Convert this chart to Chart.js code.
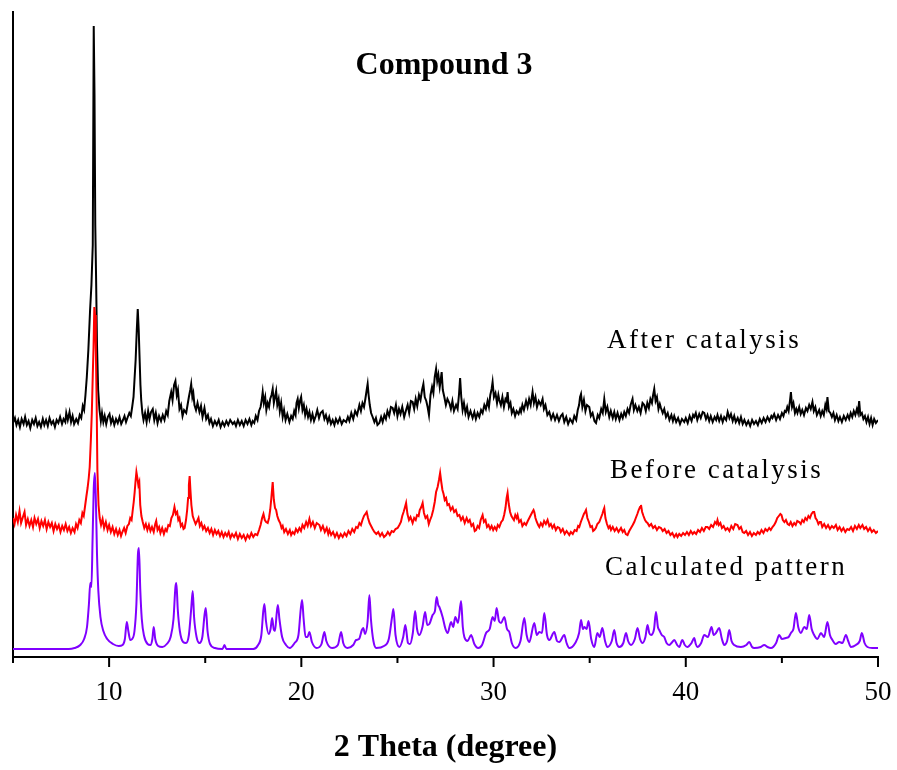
<!DOCTYPE html>
<html>
<head>
<meta charset="utf-8">
<script src="https://cdn.jsdelivr.net/npm/chart.js@4.4.1/dist/chart.umd.min.js"></script>
<style>
  body { margin: 0; background: #fff; }
  #wrap { width: 897px; height: 770px; }
</style>
</head>
<body>
<div id="wrap"><canvas id="xrd" width="897" height="770"></canvas></div>
<script>
// [2 theta, intensity above the trace's own baseline]
const afterCatalysis = [
  [5.00,2],[5.10,7],[5.18,0],[5.27,5],[5.36,-2],[5.45,6],[5.55,1],[5.63,8],[5.72,0],[5.81,4],[5.90,-3],[6.00,5],[6.09,1],[6.18,7],[6.27,-1],[6.36,3],[6.45,-2],[6.55,6],[6.63,0],[6.72,5],[6.81,-1],[6.90,7],[7.00,1],[7.09,4],[7.18,-2],[7.27,5],[7.36,2],[7.45,8],[7.55,1],[7.63,6],[7.72,3],[7.77,12],[7.85,5],[7.94,13],[8.02,3],[8.10,9],[8.18,1],[8.29,6],[8.38,2],[8.47,10],[8.55,7],[8.63,19],[8.70,15],[8.77,30],[8.84,48],[8.92,75],[9.01,115],[9.08,140],[9.15,180],[9.20,399],[9.24,330],[9.28,200],[9.32,150],[9.37,80],[9.43,35],[9.50,15],[9.57,4],[9.63,12],[9.70,3],[9.77,9],[9.85,1],[9.93,8],[10.02,11],[10.10,2],[10.18,7],[10.27,0],[10.36,6],[10.45,2],[10.54,8],[10.63,1],[10.72,5],[10.80,9],[10.88,3],[10.97,8],[11.05,12],[11.13,9],[11.20,18],[11.27,28],[11.32,45],[11.38,65],[11.44,95],[11.49,116],[11.54,95],[11.58,70],[11.63,40],[11.67,25],[11.73,12],[11.79,5],[11.87,12],[11.95,3],[12.03,14],[12.10,6],[12.18,13],[12.27,16],[12.35,5],[12.43,12],[12.52,2],[12.60,9],[12.70,4],[12.79,10],[12.88,5],[12.97,14],[13.05,10],[13.13,24],[13.23,33],[13.30,25],[13.38,40],[13.45,44],[13.52,30],[13.58,35],[13.66,16],[13.74,20],[13.82,9],[13.90,15],[14.01,12],[14.08,20],[14.15,28],[14.22,35],[14.27,41],[14.33,28],[14.38,32],[14.44,20],[14.52,15],[14.60,22],[14.70,13],[14.78,19],[14.86,8],[14.96,17],[15.05,6],[15.14,10],[15.22,2],[15.30,6],[15.40,-1],[15.50,4],[15.60,0],[15.70,5],[15.80,-2],[15.90,3],[16.00,-1],[16.10,4],[16.20,0],[16.30,5],[16.43,1],[16.52,3],[16.60,-1],[16.70,5],[16.80,0],[16.90,4],[17.00,-1],[17.10,5],[17.20,1],[17.30,6],[17.40,0],[17.47,4],[17.55,2],[17.63,9],[17.72,5],[17.80,14],[17.88,18],[17.94,25],[17.99,33],[18.05,22],[18.12,28],[18.18,15],[18.25,22],[18.32,18],[18.38,26],[18.45,30],[18.51,36],[18.57,22],[18.63,28],[18.69,34],[18.75,20],[18.82,26],[18.88,14],[18.95,22],[19.03,8],[19.10,15],[19.18,5],[19.27,11],[19.38,3],[19.47,9],[19.55,6],[19.63,14],[19.70,10],[19.75,22],[19.81,26],[19.87,17],[19.93,24],[19.99,28],[20.06,15],[20.13,20],[20.20,10],[20.27,16],[20.35,8],[20.42,13],[20.50,5],[20.58,11],[20.66,4],[20.75,9],[20.83,15],[20.92,7],[21.00,12],[21.11,14],[21.20,6],[21.28,10],[21.37,3],[21.45,8],[21.54,1],[21.63,5],[21.72,0],[21.80,6],[21.90,2],[22.00,7],[22.10,1],[22.20,5],[22.33,3],[22.42,8],[22.50,4],[22.60,12],[22.70,6],[22.80,14],[22.90,10],[23.02,20],[23.10,14],[23.18,22],[23.26,18],[23.33,26],[23.40,35],[23.45,41],[23.50,30],[23.56,20],[23.63,12],[23.71,8],[23.80,3],[23.88,7],[23.96,0],[24.06,2],[24.15,8],[24.23,3],[24.32,10],[24.40,6],[24.48,14],[24.57,9],[24.66,18],[24.75,17],[24.83,12],[24.92,20],[25.00,9],[25.08,16],[25.16,11],[25.25,18],[25.35,8],[25.45,15],[25.53,20],[25.61,12],[25.70,24],[25.79,23],[25.87,16],[25.95,26],[26.03,19],[26.12,30],[26.20,25],[26.28,35],[26.35,41],[26.42,28],[26.50,24],[26.57,18],[26.64,10],[26.72,30],[26.80,38],[26.87,32],[26.94,48],[27.01,56],[27.07,44],[27.13,50],[27.20,38],[27.25,45],[27.30,53],[27.36,35],[27.44,28],[27.52,20],[27.60,26],[27.70,22],[27.78,16],[27.86,24],[27.94,14],[28.05,20],[28.13,16],[28.20,30],[28.26,47],[28.32,28],[28.39,15],[28.46,22],[28.54,12],[28.62,18],[28.70,8],[28.80,14],[28.91,7],[29.00,13],[29.08,6],[29.17,12],[29.26,8],[29.35,15],[29.43,12],[29.52,20],[29.60,16],[29.69,24],[29.76,18],[29.83,30],[29.90,36],[29.95,43],[30.02,28],[30.10,32],[30.18,22],[30.25,30],[30.30,25],[30.38,20],[30.46,28],[30.54,18],[30.62,26],[30.68,24],[30.73,33],[30.80,18],[30.88,22],[30.95,12],[31.03,16],[31.12,9],[31.20,14],[31.30,11],[31.38,16],[31.43,13],[31.50,20],[31.58,15],[31.69,24],[31.77,18],[31.85,26],[31.93,20],[32.03,33],[32.10,22],[32.18,28],[32.26,18],[32.35,24],[32.45,20],[32.55,26],[32.62,16],[32.70,20],[32.80,10],[32.90,13],[33.00,6],[33.10,11],[33.20,5],[33.30,10],[33.40,4],[33.50,9],[33.59,11],[33.68,3],[33.78,8],[33.88,1],[33.98,6],[34.11,2],[34.20,9],[34.30,5],[34.38,15],[34.45,20],[34.50,28],[34.55,31],[34.62,18],[34.70,25],[34.78,14],[34.86,20],[34.98,18],[35.06,9],[35.15,12],[35.25,4],[35.33,2],[35.42,10],[35.50,7],[35.60,16],[35.68,12],[35.76,26],[35.84,13],[35.92,18],[36.02,8],[36.10,14],[36.20,7],[36.28,13],[36.36,6],[36.45,12],[36.55,5],[36.64,11],[36.72,7],[36.80,13],[36.88,9],[36.97,16],[37.05,12],[37.13,20],[37.23,26],[37.30,15],[37.38,20],[37.48,14],[37.56,18],[37.65,12],[37.75,22],[37.84,20],[37.92,14],[38.00,22],[38.08,17],[38.16,26],[38.24,22],[38.30,30],[38.36,36],[38.43,24],[38.50,28],[38.58,16],[38.65,21],[38.71,17],[38.80,12],[38.88,16],[38.97,8],[39.06,12],[39.15,5],[39.25,10],[39.33,4],[39.40,9],[39.50,3],[39.60,7],[39.70,1],[39.80,6],[39.92,3],[40.00,7],[40.10,2],[40.20,9],[40.30,4],[40.38,10],[40.44,8],[40.52,12],[40.60,5],[40.70,11],[40.78,7],[40.88,13],[40.96,12],[41.05,6],[41.13,10],[41.22,4],[41.30,9],[41.40,3],[41.50,8],[41.58,5],[41.65,10],[41.74,4],[41.83,9],[41.92,3],[42.00,8],[42.10,5],[42.18,13],[42.27,7],[42.35,11],[42.44,4],[42.52,9],[42.60,3],[42.70,7],[42.78,2],[42.87,8],[42.96,1],[43.05,5],[43.15,0],[43.25,4],[43.35,-1],[43.45,5],[43.55,1],[43.65,4],[43.75,0],[43.85,6],[43.95,2],[44.05,7],[44.15,3],[44.25,8],[44.35,4],[44.45,9],[44.51,7],[44.60,11],[44.70,5],[44.80,10],[44.90,6],[45.00,12],[45.08,9],[45.15,14],[45.21,13],[45.28,18],[45.35,14],[45.42,24],[45.47,33],[45.53,18],[45.60,22],[45.68,12],[45.75,16],[45.81,12],[45.90,18],[45.98,11],[46.06,15],[46.15,10],[46.25,17],[46.33,14],[46.42,20],[46.50,16],[46.59,23],[46.66,14],[46.74,18],[46.82,10],[46.94,15],[47.02,9],[47.10,14],[47.18,10],[47.26,20],[47.32,16],[47.37,28],[47.44,14],[47.52,12],[47.60,8],[47.68,12],[47.76,5],[47.85,10],[47.94,4],[48.02,8],[48.12,3],[48.22,9],[48.32,5],[48.42,10],[48.50,6],[48.58,12],[48.66,8],[48.74,14],[48.82,10],[48.90,16],[48.96,12],[49.02,24],[49.08,10],[49.16,12],[49.24,6],[49.32,9],[49.40,3],[49.48,8],[49.56,1],[49.64,7],[49.72,0],[49.80,6],[49.89,2],[50.00,5]
];

const beforeCatalysis = [
  [5.00,22],[5.08,16],[5.16,25],[5.25,18],[5.34,29],[5.42,17],[5.50,22],[5.60,28],[5.68,15],[5.77,21],[5.86,14],[5.95,20],[6.04,13],[6.12,22],[6.21,16],[6.30,21],[6.39,12],[6.48,19],[6.57,14],[6.66,20],[6.75,11],[6.84,18],[6.93,13],[7.02,17],[7.11,9],[7.20,16],[7.29,11],[7.38,15],[7.47,8],[7.56,14],[7.65,10],[7.74,16],[7.83,9],[7.92,13],[8.01,7],[8.10,12],[8.20,8],[8.28,16],[8.36,12],[8.45,20],[8.53,17],[8.61,27],[8.68,24],[8.75,34],[8.82,44],[8.88,52],[8.94,62],[8.99,73],[9.05,100],[9.10,127],[9.15,165],[9.19,193],[9.23,233],[9.27,225],[9.31,190],[9.35,140],[9.39,70],[9.45,35],[9.51,22],[9.58,15],[9.66,21],[9.74,12],[9.83,18],[9.92,10],[10.00,15],[10.09,8],[10.18,13],[10.27,6],[10.36,11],[10.45,5],[10.54,10],[10.62,4],[10.69,8],[10.78,12],[10.86,7],[10.95,14],[11.03,16],[11.10,22],[11.17,20],[11.23,30],[11.28,38],[11.33,48],[11.38,60],[11.42,68],[11.47,62],[11.52,55],[11.57,58],[11.62,35],[11.68,24],[11.75,18],[11.83,12],[11.91,16],[11.99,10],[12.07,15],[12.15,9],[12.23,13],[12.32,8],[12.40,16],[12.45,19],[12.52,10],[12.60,13],[12.67,7],[12.76,12],[12.85,6],[12.93,11],[13.00,9],[13.08,15],[13.16,14],[13.24,22],[13.32,25],[13.40,33],[13.47,26],[13.54,28],[13.60,20],[13.66,22],[13.73,14],[13.80,16],[13.87,11],[13.93,12],[14.00,20],[14.06,30],[14.11,42],[14.15,55],[14.19,64],[14.23,50],[14.28,35],[14.35,24],[14.42,20],[14.50,16],[14.58,19],[14.65,22],[14.72,14],[14.80,17],[14.88,11],[14.96,14],[15.05,9],[15.14,12],[15.23,7],[15.32,11],[15.41,5],[15.50,10],[15.59,6],[15.68,9],[15.77,4],[15.86,8],[15.95,3],[16.04,7],[16.13,4],[16.22,8],[16.31,2],[16.40,6],[16.50,3],[16.60,7],[16.70,1],[16.80,6],[16.90,2],[17.00,5],[17.10,0],[17.20,5],[17.30,2],[17.40,7],[17.50,3],[17.60,6],[17.71,5],[17.80,10],[17.88,15],[17.96,22],[18.03,26],[18.10,20],[18.17,18],[18.25,17],[18.32,22],[18.38,30],[18.44,42],[18.51,58],[18.57,40],[18.63,32],[18.69,30],[18.75,24],[18.82,20],[18.90,17],[18.97,12],[19.03,14],[19.11,8],[19.20,11],[19.30,6],[19.40,10],[19.47,5],[19.55,8],[19.64,6],[19.72,11],[19.81,8],[19.90,12],[19.98,9],[20.06,15],[20.15,12],[20.25,18],[20.33,14],[20.42,21],[20.50,14],[20.60,18],[20.70,12],[20.80,17],[20.94,15],[21.02,10],[21.12,14],[21.22,8],[21.32,12],[21.40,6],[21.46,10],[21.55,5],[21.65,8],[21.75,3],[21.85,7],[21.95,2],[22.05,6],[22.15,3],[22.25,7],[22.35,4],[22.45,9],[22.55,6],[22.65,11],[22.75,8],[22.85,13],[22.93,12],[23.02,17],[23.10,15],[23.18,20],[23.26,24],[23.33,26],[23.40,28],[23.47,22],[23.55,17],[23.63,14],[23.71,11],[23.80,8],[23.90,6],[24.00,8],[24.10,4],[24.20,7],[24.30,3],[24.41,5],[24.50,8],[24.60,5],[24.70,9],[24.80,8],[24.90,11],[25.01,12],[25.10,15],[25.18,18],[25.25,24],[25.32,28],[25.38,32],[25.45,37],[25.52,26],[25.60,20],[25.68,23],[25.79,17],[25.87,22],[25.95,20],[26.02,25],[26.10,24],[26.16,30],[26.24,33],[26.31,37],[26.38,27],[26.46,22],[26.55,24],[26.63,16],[26.70,20],[26.78,24],[26.86,30],[26.94,38],[27.01,48],[27.09,53],[27.16,60],[27.22,67],[27.28,58],[27.34,50],[27.40,46],[27.46,40],[27.53,42],[27.60,35],[27.68,36],[27.77,30],[27.87,33],[27.95,28],[28.04,30],[28.13,24],[28.22,25],[28.31,20],[28.40,23],[28.50,17],[28.60,22],[28.68,18],[28.76,20],[28.85,14],[28.94,16],[29.02,9],[29.09,10],[29.17,14],[29.25,12],[29.33,20],[29.43,25],[29.50,18],[29.58,20],[29.66,13],[29.74,15],[29.82,11],[29.90,14],[29.98,10],[30.06,13],[30.15,10],[30.22,15],[30.30,13],[30.40,18],[30.48,20],[30.55,25],[30.62,32],[30.68,42],[30.73,47],[30.79,36],[30.86,28],[30.93,24],[30.99,22],[31.06,20],[31.13,25],[31.20,22],[31.25,25],[31.33,18],[31.42,20],[31.50,14],[31.60,17],[31.69,15],[31.78,19],[31.86,22],[31.94,25],[32.02,28],[32.08,30],[32.12,28],[32.18,22],[32.25,18],[32.32,15],[32.38,13],[32.46,17],[32.55,14],[32.63,19],[32.72,16],[32.81,20],[32.90,14],[32.98,16],[33.06,12],[33.15,15],[33.24,10],[33.33,13],[33.42,12],[33.50,8],[33.60,11],[33.70,6],[33.80,9],[33.94,5],[34.02,8],[34.12,6],[34.22,10],[34.32,9],[34.40,14],[34.46,13],[34.54,18],[34.62,22],[34.70,26],[34.76,28],[34.81,30],[34.88,22],[34.96,18],[35.04,13],[35.12,14],[35.18,9],[35.24,10],[35.32,12],[35.40,16],[35.50,18],[35.58,22],[35.66,26],[35.72,30],[35.76,32],[35.82,22],[35.90,16],[35.98,12],[36.05,14],[36.11,10],[36.20,13],[36.30,9],[36.40,12],[36.50,8],[36.63,12],[36.72,8],[36.80,10],[36.88,6],[36.97,5],[37.06,9],[37.15,12],[37.24,15],[37.32,18],[37.40,22],[37.48,26],[37.55,30],[37.62,33],[37.67,35],[37.73,28],[37.80,24],[37.88,20],[37.95,18],[38.01,17],[38.10,14],[38.20,16],[38.30,12],[38.40,14],[38.50,10],[38.60,13],[38.71,12],[38.80,9],[38.90,11],[39.00,7],[39.10,9],[39.20,5],[39.30,7],[39.40,3],[39.50,6],[39.57,3],[39.66,6],[39.76,4],[39.86,7],[39.96,5],[40.06,8],[40.16,5],[40.26,9],[40.36,6],[40.44,8],[40.54,6],[40.64,10],[40.74,8],[40.84,12],[40.94,9],[41.04,13],[41.13,13],[41.22,11],[41.32,15],[41.42,13],[41.52,18],[41.60,16],[41.65,20],[41.72,15],[41.80,17],[41.88,12],[41.97,14],[42.07,10],[42.17,12],[42.27,9],[42.37,14],[42.47,11],[42.57,16],[42.69,15],[42.78,11],[42.87,13],[42.96,8],[43.04,7],[43.14,9],[43.24,5],[43.34,8],[43.44,4],[43.54,7],[43.65,5],[43.74,8],[43.84,6],[43.94,10],[44.04,7],[44.14,11],[44.24,9],[44.34,12],[44.42,10],[44.51,13],[44.60,15],[44.68,18],[44.76,22],[44.84,24],[44.92,26],[44.98,25],[45.05,20],[45.13,18],[45.21,20],[45.30,16],[45.38,15],[45.46,18],[45.55,14],[45.64,17],[45.72,15],[45.80,19],[45.90,18],[45.98,16],[46.06,20],[46.14,18],[46.22,22],[46.30,20],[46.38,24],[46.46,22],[46.54,26],[46.62,28],[46.68,28],[46.75,22],[46.82,20],[46.90,16],[46.97,18],[47.03,18],[47.10,13],[47.20,16],[47.30,12],[47.40,15],[47.50,11],[47.60,14],[47.70,12],[47.81,15],[47.90,10],[48.00,13],[48.10,9],[48.20,12],[48.30,8],[48.40,11],[48.50,10],[48.60,13],[48.70,9],[48.80,14],[48.90,11],[49.00,15],[49.08,12],[49.19,15],[49.28,11],[49.38,13],[49.48,9],[49.58,12],[49.68,8],[49.78,10],[49.89,7],[50.00,9]
];

const calculatedPattern = [
  [5,0],[7.9,0],[8.2,1],[8.5,4],[8.7,10],[8.85,22],[8.95,45],[9.02,66],[9.08,62],[9.14,110],[9.2,160],[9.26,176],[9.31,150],[9.37,95],[9.44,58],[9.55,32],[9.7,18],[9.9,10],[10.2,5],[10.5,3],[10.7,4],[10.82,10],[10.92,27],[11.0,18],[11.1,9],[11.2,10],[11.32,18],[11.42,45],[11.5,95],[11.55,101],[11.62,60],[11.7,30],[11.82,13],[12.0,5],[12.15,4],[12.25,10],[12.32,22],[12.4,10],[12.55,3],[12.77,2],[13.0,5],[13.2,12],[13.35,30],[13.45,62],[13.5,66],[13.57,40],[13.68,18],[13.85,7],[14.0,6],[14.15,14],[14.27,40],[14.35,58],[14.42,32],[14.55,12],[14.7,6],[14.85,12],[14.97,35],[15.03,41],[15.12,18],[15.25,5],[15.5,1],[15.9,0],[16.0,4],[16.1,0],[17.5,0],[17.75,4],[17.92,14],[18.02,38],[18.08,45],[18.16,28],[18.3,15],[18.4,20],[18.48,31],[18.56,20],[18.63,18],[18.72,36],[18.78,44],[18.86,30],[19.0,12],[19.2,4],[19.4,1],[19.65,6],[19.85,14],[19.97,40],[20.04,49],[20.12,30],[20.22,12],[20.32,12],[20.42,17],[20.55,7],[20.8,1],[21.05,5],[21.15,14],[21.2,17],[21.3,8],[21.6,1],[21.9,4],[22.02,14],[22.07,17],[22.18,6],[22.4,1],[22.7,4],[22.85,9],[23.0,10],[23.15,19],[23.22,21],[23.32,15],[23.45,28],[23.54,54],[23.62,30],[23.75,8],[23.9,1],[24.3,3],[24.55,10],[24.72,32],[24.79,40],[24.9,14],[25.1,2],[25.3,12],[25.41,24],[25.55,6],[25.65,5],[25.8,16],[25.92,38],[26.02,20],[26.14,14],[26.3,22],[26.44,37],[26.55,24],[26.66,25],[26.83,34],[26.95,38],[27.04,52],[27.12,44],[27.18,42],[27.35,32],[27.5,20],[27.61,16],[27.79,27],[27.9,22],[28.01,32],[28.15,26],[28.31,48],[28.4,22],[28.48,12],[28.65,8],[28.83,14],[29.0,5],[29.2,1],[29.4,4],[29.61,16],[29.8,20],[29.95,32],[30.06,28],[30.16,41],[30.28,28],[30.39,26],[30.56,32],[30.7,20],[30.82,17],[30.95,6],[31.15,1],[31.4,8],[31.6,31],[31.72,14],[31.86,7],[32.12,26],[32.25,14],[32.38,17],[32.52,16],[32.64,36],[32.78,14],[32.9,9],[33.16,17],[33.3,8],[33.42,7],[33.68,14],[33.8,6],[33.94,1],[34.25,6],[34.45,16],[34.55,29],[34.65,20],[34.72,22],[34.84,20],[34.94,28],[35.08,10],[35.24,2],[35.4,16],[35.52,12],[35.66,21],[35.8,8],[35.92,2],[36.15,8],[36.28,19],[36.4,6],[36.54,2],[36.75,6],[36.89,16],[37.0,8],[37.15,4],[37.35,10],[37.49,21],[37.62,10],[37.75,6],[37.9,12],[38.01,24],[38.1,16],[38.19,14],[38.35,20],[38.45,37],[38.55,22],[38.62,19],[38.75,14],[38.88,12],[39.0,6],[39.14,4],[39.3,7],[39.4,9],[39.55,4],[39.66,2],[39.82,9],[39.95,4],[40.08,2],[40.3,6],[40.44,11],[40.52,5],[40.6,2],[40.8,6],[40.96,14],[41.15,12],[41.34,22],[41.45,14],[41.57,16],[41.74,21],[41.88,10],[42.0,4],[42.15,8],[42.26,19],[42.38,8],[42.52,4],[42.87,2],[43.15,4],[43.3,7],[43.45,2],[43.56,1],[43.9,2],[44.08,4],[44.25,2],[44.43,1],[44.7,6],[44.86,14],[45.0,10],[45.21,11],[45.35,12],[45.47,16],[45.6,20],[45.73,36],[45.85,22],[45.99,16],[46.16,22],[46.3,20],[46.42,34],[46.55,20],[46.68,14],[46.85,10],[47.03,16],[47.2,12],[47.37,27],[47.5,14],[47.63,9],[47.8,5],[47.98,7],[48.15,6],[48.33,14],[48.45,8],[48.59,2],[48.85,4],[49.05,8],[49.16,16],[49.3,6],[49.45,2],[49.7,1],[50,1]
];

const seriesNames = ['After catalysis', 'Before catalysis', 'Calculated pattern'];
const seriesColors = ['#000000', '#ff0000', '#8000ff'];
const stackOffsets = [232, 117, 8];   // vertical offset of each trace
const xTicks = [5, 10, 15, 20, 25, 30, 35, 40, 45, 50];

function toPoints(pairs, offset) {
  return pairs.map(p => ({ x: p[0], y: p[1] + offset }));
}

const serif = '"Liberation Serif", "Times New Roman", serif';

const decorations = {
  id: 'decorations',
  afterDraw(chart) {
    const ctx = chart.ctx;
    const area = chart.chartArea;
    const xs = chart.scales.x;
    ctx.save();
    // major / minor ticks on the bottom axis
    ctx.strokeStyle = '#000';
    ctx.lineWidth = 2;
    xTicks.forEach(v => {
      const px = xs.getPixelForValue(v);
      const len = v % 10 === 0 ? 10 : 6;
      ctx.beginPath();
      ctx.moveTo(px, area.bottom);
      ctx.lineTo(px, area.bottom + len);
      ctx.stroke();
    });
    ctx.fillStyle = '#000';
    ctx.textBaseline = 'alphabetic';
    ctx.textAlign = 'center';
    ctx.font = 'bold 32px ' + serif;
    ctx.fillText('Compound 3', 444, 74);

    ctx.textAlign = 'left';
    ctx.font = '27px ' + serif;
    ctx.letterSpacing = '2.5px';
    ctx.fillText(seriesNames[0], 607, 348);
    ctx.fillText(seriesNames[1], 610, 478);
    ctx.fillText(seriesNames[2], 605, 575);
    ctx.restore();
  }
};

new Chart(document.getElementById('xrd'), {
  type: 'line',
  data: {
    datasets: [
      { label: seriesNames[1], data: toPoints(beforeCatalysis, stackOffsets[1]), borderColor: seriesColors[1] },
      { label: seriesNames[0], data: toPoints(afterCatalysis, stackOffsets[0]), borderColor: seriesColors[0] },
      { label: seriesNames[2], data: toPoints(calculatedPattern, stackOffsets[2]), borderColor: seriesColors[2], cubicInterpolationMode: 'monotone' }
    ]
  },
  options: {
    responsive: false,
    animation: false,
    layout: { padding: { top: 12, right: 19, left: 0, bottom: 0 } },
    elements: {
      point: { radius: 0 },
      line: { borderWidth: 2, tension: 0 }
    },
    plugins: {
      legend: { display: false },
      tooltip: { enabled: false }
    },
    scales: {
      x: {
        type: 'linear',
        min: 5,
        max: 50,
        afterFit: s => { s.height = 113; s.paddingLeft = 0; s.paddingRight = 0; },
        border: { display: true, color: '#000', width: 2 },
        grid: { display: false, drawTicks: false },
        ticks: {
          stepSize: 5,
          autoSkip: false,
          maxRotation: 0,
          padding: 20,
          color: '#000',
          font: { family: serif, size: 27 },
          callback: v => (v % 10 === 0 ? v : '')
        },
        title: {
          display: true,
          text: '2 Theta (degree)',
          color: '#000',
          font: { family: serif, size: 32, weight: 'bold' },
          padding: { top: 0, bottom: 3 }
        }
      },
      y: {
        min: 0,
        max: 645,
        afterFit: s => { s.width = 13; s.paddingTop = 0; s.paddingBottom = 0; },
        border: { display: true, color: '#000', width: 2 },
        grid: { display: false },
        ticks: { display: false }
      }
    }
  },
  plugins: [decorations]
});
</script>
</body>
</html>
